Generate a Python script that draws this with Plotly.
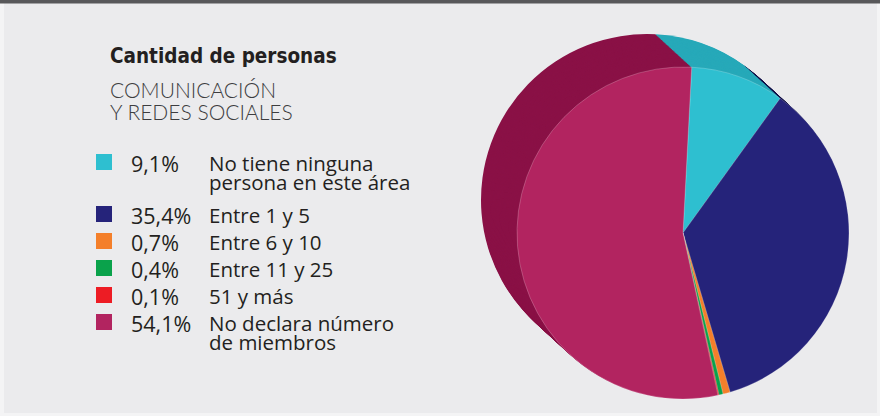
import plotly.graph_objects as go

# ---------------- data ----------------
labels = ["No tiene ninguna persona en este área", "Entre 1 y 5", "Entre 6 y 10",
          "Entre 11 y 25", "51 y más", "No declara número de miembros"]
legend_lines = [["No tiene ninguna", "persona en este área"], ["Entre 1 y 5"], ["Entre 6 y 10"],
                ["Entre 11 y 25"], ["51 y más"], ["No declara número", "de miembros"]]
pct_text = ["9,1%", "35,4%", "0,7%", "0,4%", "0,1%", "54,1%"]
values = [9.1, 35.4, 0.7, 0.4, 0.1, 54.1]
colors = ["#2ebfd0", "#25237a", "#f47f2a", "#0aa24b", "#ed1c24", "#b22460"]
wall_colors = ["#27a9b9", "#111048", "#c9621c", "#07813b", "#b81219", "#8a1146"]

title = "Cantidad de personas"
subtitle = ["COMUNICACIÓN", "Y REDES SOCIALES"]

# ---------------- layout constants ----------------
W, H = 880, 416
cx, cy, R = 683, 233, 166          # front pie centre/radius (px)
dx, dy = -36, -33                  # extrusion offset (px)
N = 40                             # extrusion layers
ROT = 3

def domain(px, py):
    return dict(x=[(px - R) / W, (px + R) / W],
                y=[(H - py - R) / H, (H - py + R) / H])

fig = go.Figure()

# extrusion (side wall) built from stacked pies
for k in range(N, 0, -1):
    f = k / N
    fig.add_trace(go.Pie(values=values, labels=labels, sort=False, direction="clockwise",
                         rotation=ROT, textinfo="none", hoverinfo="skip", showlegend=False,
                         marker=dict(colors=wall_colors, line=dict(width=0)),
                         domain=domain(cx + dx * f, cy + dy * f)))

# front face
fig.add_trace(go.Pie(values=values, labels=labels, sort=False, direction="clockwise",
                     rotation=ROT, textinfo="none", showlegend=False,
                     marker=dict(colors=colors, line=dict(width=0.6, color="rgba(255,255,255,0.35)")),
                     domain=domain(cx, cy)))

# legend squares (pixel-coordinate overlay axis)
row_y = []
y = 162
for lines in legend_lines:
    row_y.append(y)
    y += 27 + (len(lines) - 1) * 25
fig.add_trace(go.Scatter(x=[104] * len(values), y=row_y, mode="markers",
                         marker=dict(symbol="square", size=16, color=colors, line=dict(width=0)),
                         hoverinfo="skip", showlegend=False))

ann = []
txt_col = "#231f20"
for i, (p, lines) in enumerate(zip(pct_text, legend_lines)):
    ann.append(dict(x=129, y=row_y[i] + 1, text=p, showarrow=False, xanchor="left", yanchor="middle",
                    font=dict(family="Open Sans", size=21.5, color=txt_col)))
    for j, ln in enumerate(lines):
        ann.append(dict(x=207, y=row_y[i] + 1 + 19 * j, text=ln, showarrow=False, xanchor="left",
                        yanchor="middle", font=dict(family="Open Sans", size=20.5, color=txt_col)))

ann.append(dict(x=108, y=56, text="<b>" + title + "</b>", showarrow=False, xanchor="left", yanchor="middle",
                font=dict(family="DejaVu Sans Condensed, Roboto", size=20.5, color=txt_col)))
for j, s in enumerate(subtitle):
    ann.append(dict(x=108, y=89 + 22 * j, text=s, showarrow=False, xanchor="left", yanchor="middle",
                    font=dict(family="Lato", size=21, color="#3d3d3f", weight=300)))

shapes = [
    dict(type="rect", xref="x", yref="y", x0=4, x1=877, y0=0, y1=413, fillcolor="#ebebed",
         line=dict(width=0), layer="below"),
    dict(type="rect", xref="x", yref="y", x0=0, x1=880, y0=0, y1=3.5, fillcolor="#58585a",
         line=dict(width=0), layer="above"),
]

fig.update_layout(
    width=W, height=H, margin=dict(l=0, r=0, t=0, b=0),
    paper_bgcolor="#f4f4f5", plot_bgcolor="rgba(0,0,0,0)",
    xaxis=dict(range=[0, W], visible=False, fixedrange=True),
    yaxis=dict(range=[H, 0], visible=False, fixedrange=True),
    annotations=ann, shapes=shapes, showlegend=False,
)

fig.write_html("out.html", config={"displayModeBar": False},
               post_script="document.body.style.margin='0';document.body.style.padding='0';"
                           "document.body.style.overflow='hidden';")
